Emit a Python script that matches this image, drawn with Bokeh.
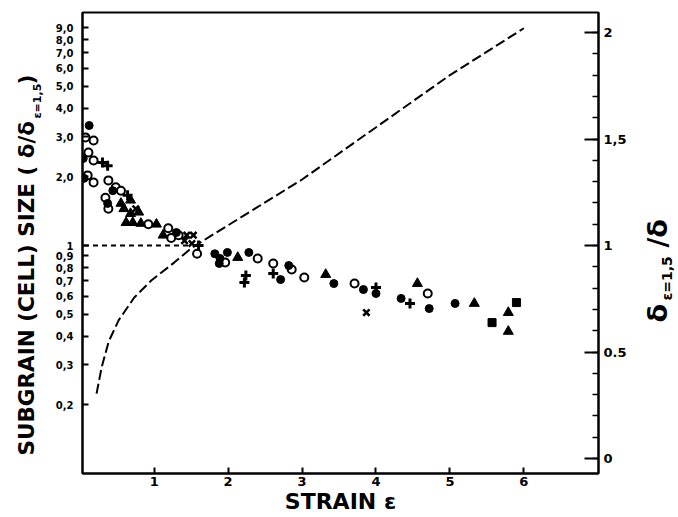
from bokeh.plotting import figure
from bokeh.layouts import row
from bokeh.models import Range1d, LinearAxis, LinearScale, FixedTicker, SingleIntervalTicker, Label
from bokeh.embed import file_html
from bokeh.resources import INLINE

# ---------------- data ----------------
strain_open = [0.07, 0.18, 0.11, 0.18, 0.10, 0.18, 0.38, 0.48, 0.55, 0.34, 0.38, 0.92, 1.19,
               1.23, 1.33, 1.58, 1.96, 2.40, 2.61, 2.86, 3.03, 3.71, 4.70]
size_open = [2.98, 2.89, 2.56, 2.36, 2.03, 1.89, 1.93, 1.80, 1.74, 1.62, 1.45, 1.24, 1.19,
             1.08, 1.11, 0.92, 0.842, 0.877, 0.834, 0.785, 0.724, 0.681, 0.616]

strain_filled = [0.12, 0.04, 0.05, 0.44, 0.37, 1.30, 1.82, 1.89, 1.88, 1.99, 2.28, 2.71, 2.82,
                 3.43, 3.83, 4.00, 4.34, 4.72, 5.07]
size_filled = [3.36, 2.41, 1.97, 1.74, 1.53, 1.14, 0.92, 0.877, 0.834, 0.932, 0.932, 0.709, 0.817,
               0.681, 0.641, 0.616, 0.586, 0.529, 0.557]

strain_tri = [0.55, 0.68, 0.59, 0.68, 0.79, 0.62, 0.71, 0.82, 1.03, 1.12, 2.13, 3.32, 4.56,
              5.33, 5.79, 5.79]
size_tri = [1.53, 1.58, 1.45, 1.38, 1.40, 1.26, 1.26, 1.25, 1.24, 1.11, 0.886, 0.746, 0.681,
            0.557, 0.508, 0.42]

strain_x = [0.75, 1.44, 1.53, 1.41, 1.51, 3.87]
size_x = [1.45, 1.11, 1.11, 1.05, 1.02, 0.508]

strain_plus = [0.30, 0.37, 0.64, 1.60, 2.24, 2.22, 2.61, 4.00, 4.46]
size_plus = [2.31, 2.24, 1.66, 1.00, 0.739, 0.688, 0.754, 0.654, 0.557]

strain_sq = [5.90, 5.57]
size_sq = [0.562, 0.459]

# inverse size curve, read against the right-hand axis
curve_strain = [0.22, 0.29, 0.385, 0.52, 0.73, 0.96, 1.27, 1.51, 3.0, 5.0, 6.0]
curve_ratio = [0.305, 0.43, 0.55, 0.65, 0.756, 0.836, 0.92, 0.99, 1.31, 1.80, 2.02]

ref_strain = [0.05, 1.5]
ref_size = [1.0, 1.0]

left_ticks = [0.2, 0.3, 0.4, 0.5, 0.6, 0.7, 0.8, 0.9, 1, 2, 3, 4, 5, 6, 7, 8, 9]
left_tick_labels = ["0,2", "0,3", "0,4", "0,5", "0,6", "0,7", "0,8", "0,9", "1",
                    "2,0", "3,0", "4,0", "5,0", "6,0", "7,0", "8,0", "9,0"]
right_ticks = [0, 0.5, 1, 1.5, 2]
right_tick_labels = ["0", "0.5", "1", "1,5", "2"]
x_ticks = [1, 2, 3, 4, 5, 6]

FONT = "DejaVu Sans"
H = 517
TOP, BOTTOM = 12, 44

p = figure(width=580, height=H, y_axis_type="log",
           x_range=Range1d(0.03, 7.01), y_range=Range1d(0.1, 10.52),
           output_backend="svg", toolbar_location=None,
           min_border_left=32, min_border_right=32, min_border_top=TOP, min_border_bottom=BOTTOM)
p.extra_y_ranges = {"right": Range1d(-0.07, 2.094)}
p.extra_y_scales = {"right": LinearScale()}

p.grid.visible = False
p.background_fill_color = "white"
p.border_fill_color = "white"
p.outline_line_color = "black"
p.outline_line_width = 2

# left axis
ya = p.yaxis[0]
ya.ticker = FixedTicker(ticks=left_ticks)
ya.major_label_overrides = {t: l for t, l in zip(left_ticks, left_tick_labels)}
ya.major_tick_in = 6
ya.major_tick_out = 0
ya.minor_tick_in = 0
ya.minor_tick_out = 0
ya.major_label_standoff = 9
ya.major_label_text_font = FONT
ya.major_label_text_font_style = "bold"
ya.major_label_text_font_size = "10px"
ya.major_label_text_color = "black"
ya.axis_line_width = 2
ya.major_tick_line_width = 2

# bottom axis
xa = p.xaxis[0]
xa.ticker = FixedTicker(ticks=x_ticks)
xa.major_tick_in = 6
xa.major_tick_out = 0
xa.minor_tick_in = 0
xa.minor_tick_out = 0
xa.major_label_standoff = 3
xa.major_label_text_font = FONT
xa.major_label_text_font_style = "bold"
xa.major_label_text_font_size = "13px"
xa.major_label_text_color = "black"
xa.axis_line_width = 2
xa.major_tick_line_width = 2
xa.axis_label = "STRAIN ε"
xa.axis_label_standoff = 0
xa.axis_label_text_font = FONT
xa.axis_label_text_font_style = "bold"
xa.axis_label_text_font_size = "22px"
xa.axis_label_text_color = "black"

# right axis
ra = LinearAxis(y_range_name="right")
ra.ticker = SingleIntervalTicker(interval=0.5, num_minor_ticks=5)
ra.major_label_overrides = {t: l for t, l in zip(right_ticks, right_tick_labels)}
ra.major_tick_in = 14
ra.major_tick_out = 0
ra.minor_tick_in = 6
ra.minor_tick_out = 0
ra.major_label_standoff = 5
ra.major_label_text_font = FONT
ra.major_label_text_font_style = "bold"
ra.major_label_text_font_size = "13px"
ra.major_label_text_color = "black"
ra.axis_line_width = 2
ra.major_tick_line_width = 2
ra.minor_tick_line_width = 1.5
p.add_layout(ra, "right")

# lines
p.line(ref_strain, ref_size, line_color="black", line_width=2, line_dash="5 4")
p.line(curve_strain, curve_ratio, y_range_name="right", line_color="black",
       line_width=2, line_dash="10 4")

# markers
p.scatter(strain_open, size_open, marker="circle", size=8, fill_color="white",
          line_color="black", line_width=2)
p.scatter(strain_filled, size_filled, marker="circle", size=8, fill_color="black",
          line_color="black")
p.scatter(strain_tri, size_tri, marker="triangle", size=10, fill_color="black",
          line_color="black")
p.scatter(strain_x, size_x, marker="x", size=9, line_color="black", line_width=2.5)
p.scatter(strain_plus, size_plus, marker="cross", size=10, line_color="black", line_width=3)
p.scatter(strain_sq, size_sq, marker="square", size=8, fill_color="black", line_color="black")


# ---- side strips holding the rotated axis titles (y measured up from page bottom) ----
def strip(w):
    s = figure(width=w, height=H, x_range=Range1d(0, w), y_range=Range1d(BOTTOM, H - TOP),
               output_backend="svg", toolbar_location=None,
               x_axis_location=None, y_axis_location=None,
               min_border_left=0, min_border_right=0, min_border_top=TOP,
               min_border_bottom=BOTTOM)
    s.grid.visible = False
    s.outline_line_color = None
    s.background_fill_color = "white"
    s.border_fill_color = "white"
    return s


def lab(fig, text, x, y, size):
    fig.add_layout(Label(x=x, y=y, text=text, angle=90, angle_units="deg",
                         text_font=FONT, text_font_style="bold", text_font_size=size,
                         text_align="left", text_baseline="middle", text_color="black"))


left = strip(50)
lab(left, "SUBGRAIN (CELL) SIZE ( δ/δ", 26, 62, "21.5px")
lab(left, "ε=1,5", 37, 399, "11px")
lab(left, ")", 26, 433, "21.5px")

right = strip(48)
lab(right, "δ", 27, 195, "27px")
lab(right, "ε=1,5", 36, 217, "14px")
lab(right, "/δ", 27, 270, "27px")

layout = row(left, p, right)
open("out.html", "w").write(file_html(layout, INLINE))
